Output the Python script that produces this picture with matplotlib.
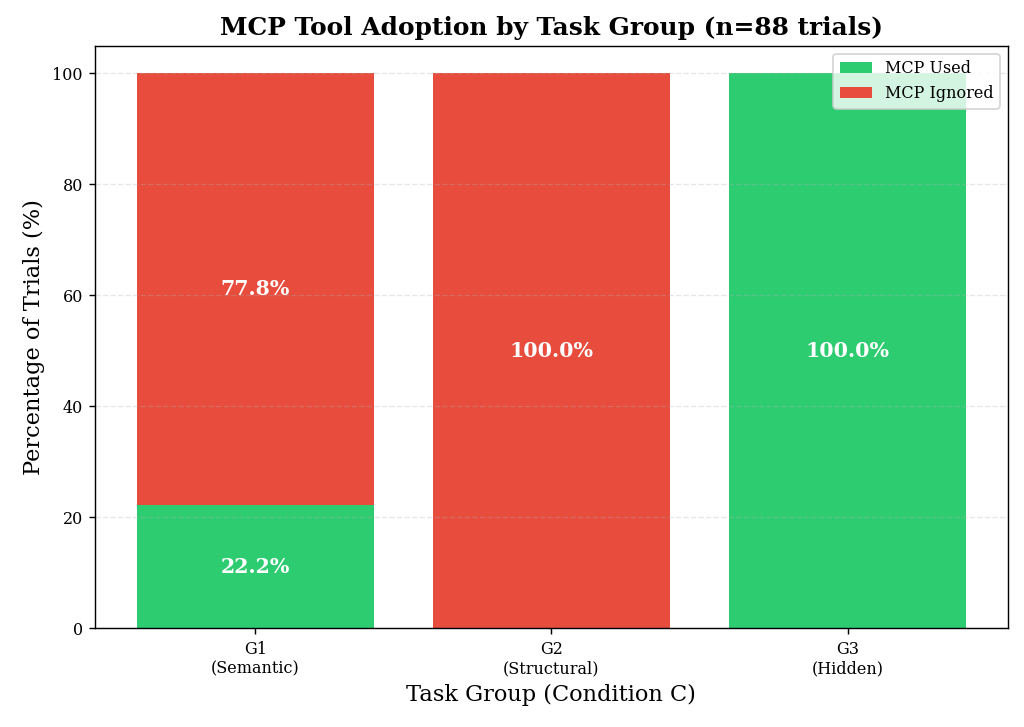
import numpy as np
import matplotlib
matplotlib.use('Agg')
from matplotlib import pyplot as plt

# dữ liệu
groups = ['G1\n(Semantic)', 'G2\n(Structural)', 'G3\n(Hidden)']
used = [22.2, 0.0, 100.0]
ignored = [77.8, 100.0, 0.0]

plt.rcParams['font.family'] = 'DejaVu Serif'

fig, ax = plt.subplots(figsize=(8, 5.68), dpi=128)
x = np.arange(len(groups))
ax.bar(x, used, 0.8, color='#2ecc71', label='MCP Used')
ax.bar(x, ignored, 0.8, bottom=used, color='#e74c3c', label='MCP Ignored')

for i in range(len(groups)):
    if used[i] > 0:
        ax.text(x[i], used[i] / 2, f'{used[i]:.1f}%', ha='center', va='center',
                color='white', fontsize=11.5, fontweight='bold')
    if ignored[i] > 0:
        ax.text(x[i], used[i] + ignored[i] / 2, f'{ignored[i]:.1f}%', ha='center', va='center',
                color='white', fontsize=11.5, fontweight='bold')

ax.set_xticks(x)
ax.set_xticklabels(groups, fontsize=9)
ax.tick_params(axis='y', labelsize=9)
ax.set_ylim(0, 105)
ax.set_xlabel('Task Group (Condition C)', fontsize=12.7)
ax.set_ylabel('Percentage of Trials (%)', fontsize=12.7)
ax.set_title('MCP Tool Adoption by Task Group (n=88 trials)', fontsize=14, fontweight='bold')
ax.yaxis.grid(True, linestyle='--', alpha=0.3)
ax.legend(loc='upper right', fontsize=9)

plt.subplots_adjust(left=0.093, right=0.984, top=0.937, bottom=0.136)
plt.savefig('out.png', dpi=128)
